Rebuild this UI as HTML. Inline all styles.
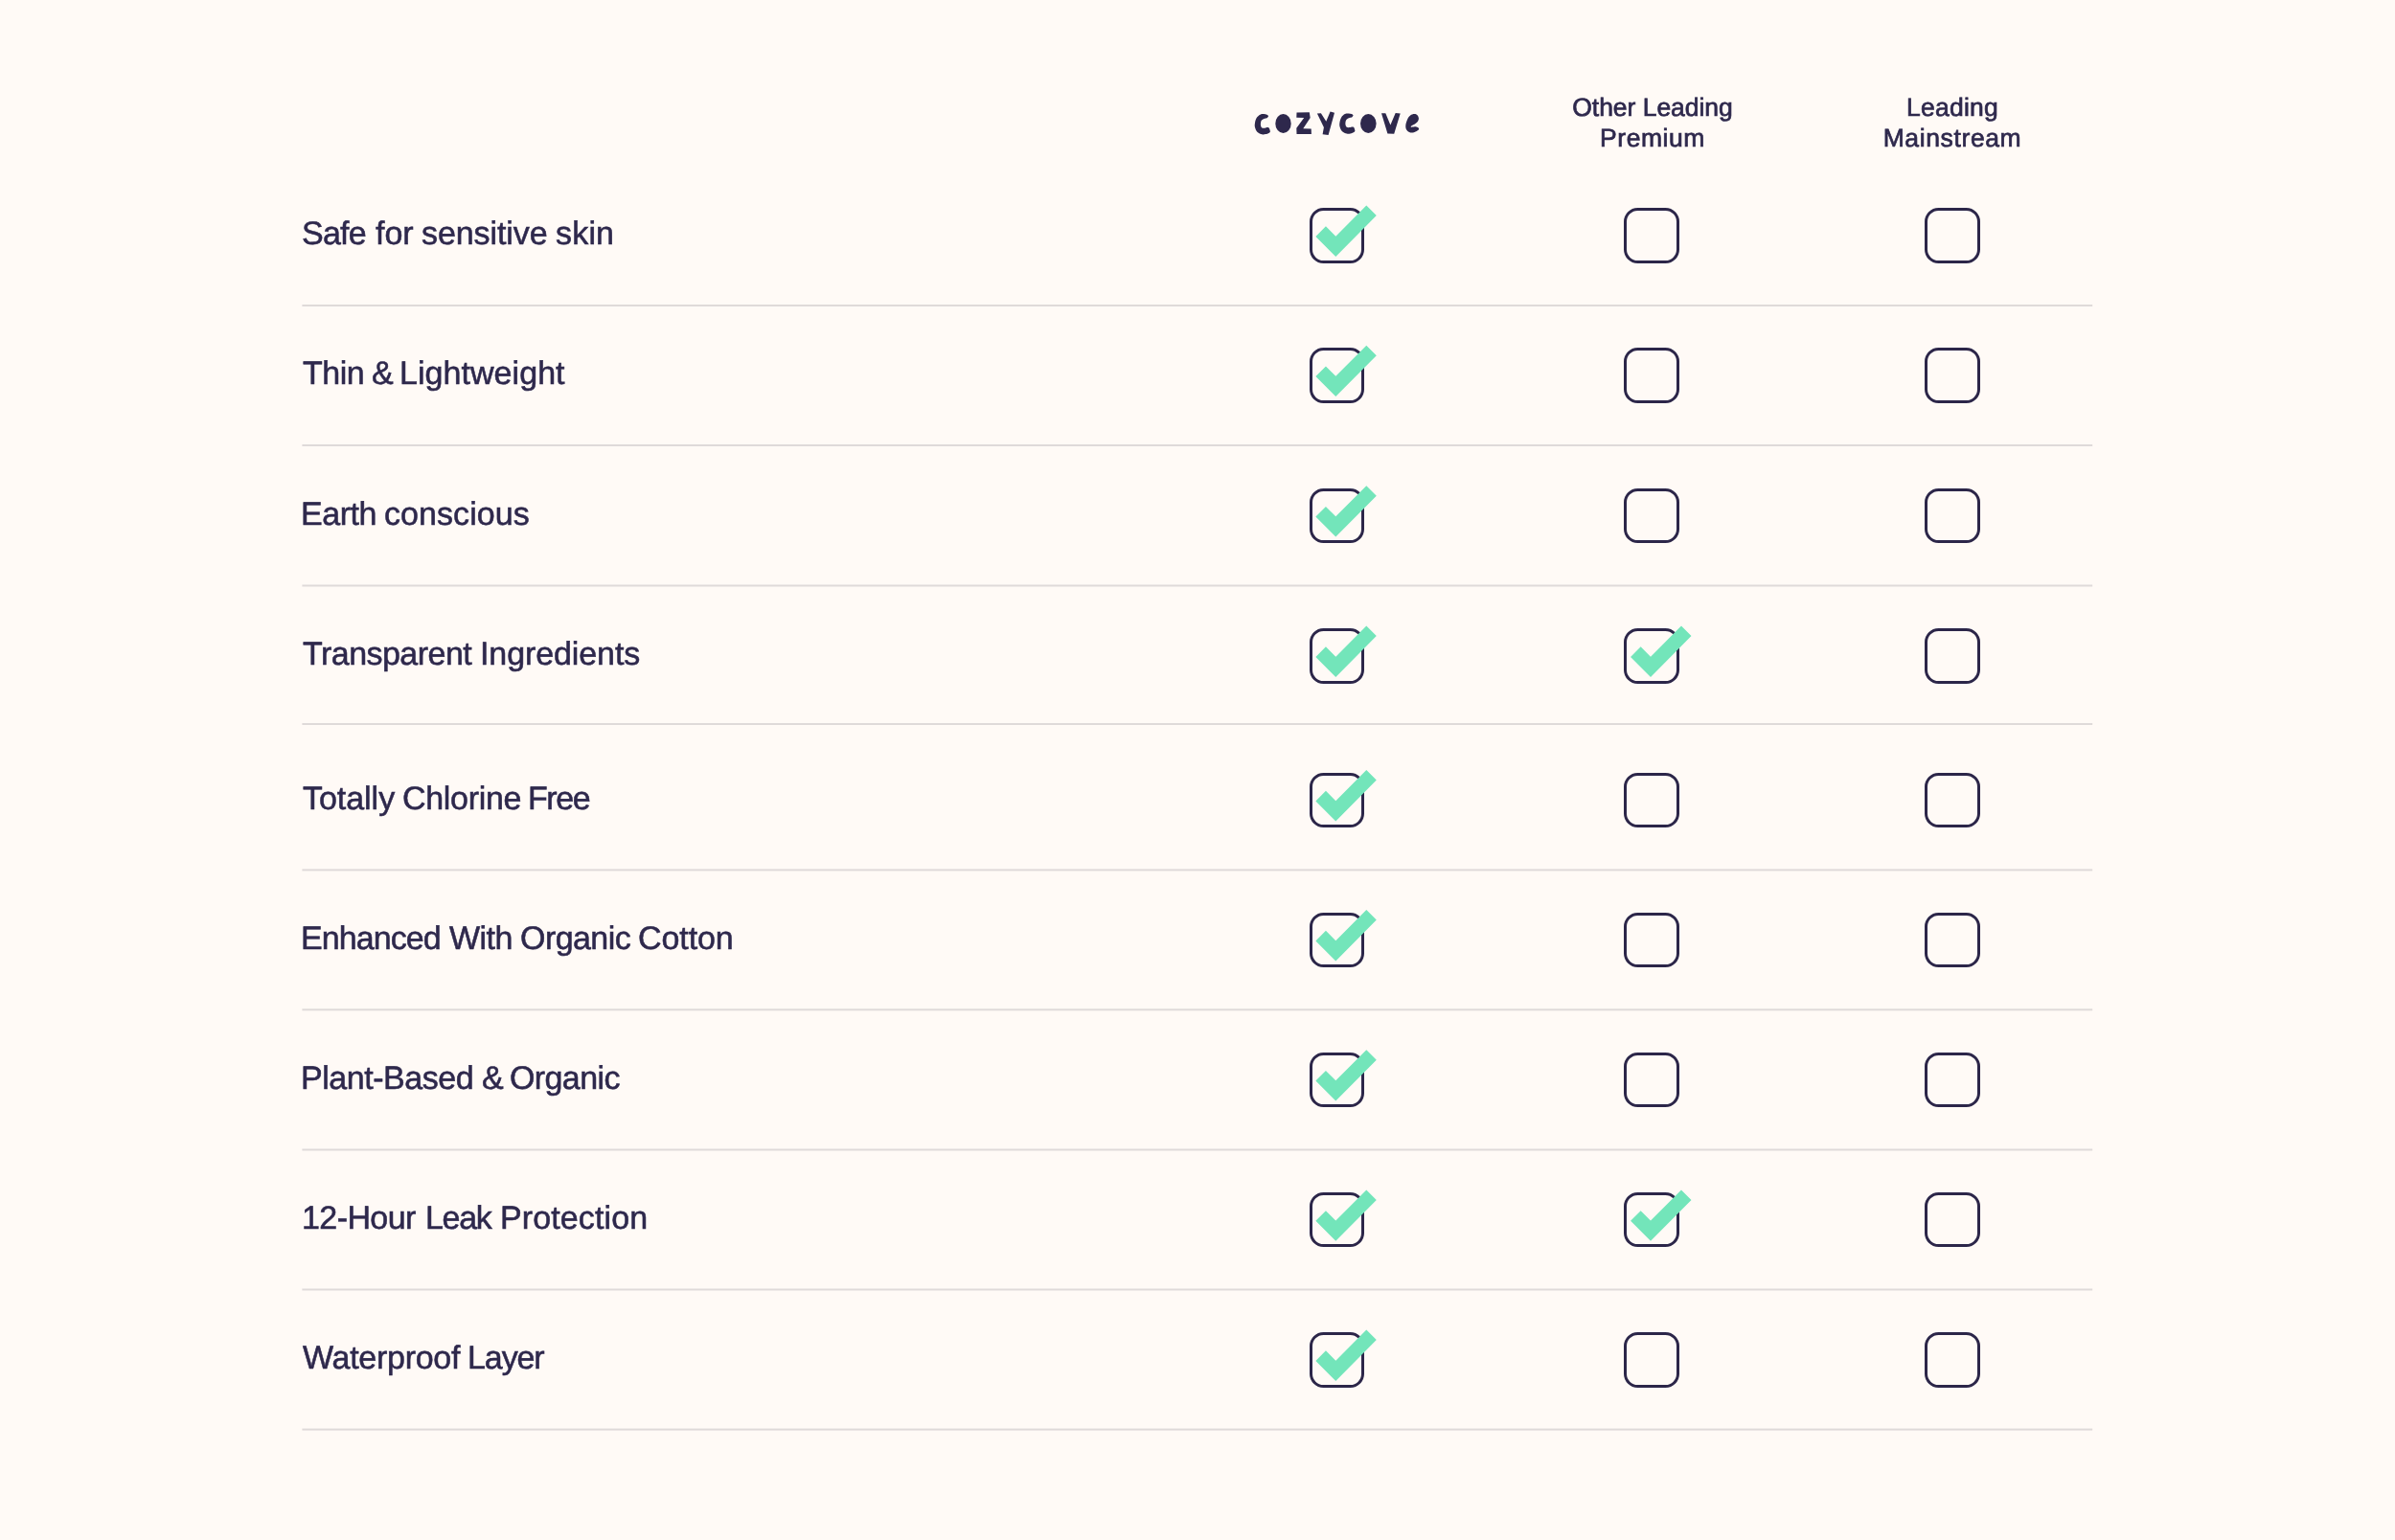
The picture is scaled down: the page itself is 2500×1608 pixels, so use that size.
<!DOCTYPE html>
<html><head><meta charset="utf-8"><title>Comparison</title>
<style>
html,body{margin:0;padding:0;}
body{width:2500px;height:1608px;overflow:hidden;background:#FFFAF6;position:relative;font-family:"Liberation Sans",sans-serif;color:#2E284C;text-rendering:geometricPrecision;}
.lbl{position:absolute;white-space:nowrap;will-change:transform;font-size:34.00px;line-height:34.00px;height:34.00px;-webkit-text-stroke:0.55px #2E284C;}
.hd{position:absolute;white-space:nowrap;will-change:transform;font-size:26.50px;line-height:32px;text-align:center;width:300px;-webkit-text-stroke:0.70px #2E284C;}
.bx{position:absolute;width:57.50px;height:57.50px;box-sizing:border-box;border:3px solid #2C2649;border-radius:14.5px;}
svg{position:absolute;overflow:visible;}
</style></head><body>

<svg style="left:0;top:0" width="2500" height="200" viewBox="0 0 2500 200"><g fill="#2E284C"><path d="M1319.20,119.10 C1320.37,119.10 1321.60,119.35 1322.40,119.70 C1323.20,120.05 1324.00,120.60 1324.00,121.20 C1324.00,121.80 1323.13,122.85 1322.40,123.30 C1321.67,123.75 1320.52,123.52 1319.60,123.90 C1318.68,124.28 1317.50,124.88 1316.90,125.60 C1316.30,126.32 1316.15,127.30 1316.00,128.20 C1315.85,129.10 1315.78,130.12 1316.00,131.00 C1316.22,131.88 1316.58,133.03 1317.30,133.50 C1318.02,133.97 1319.35,133.87 1320.30,133.80 C1321.25,133.73 1322.27,133.12 1323.00,133.10 C1323.73,133.08 1324.23,133.10 1324.70,133.70 C1325.17,134.30 1325.72,135.92 1325.80,136.70 C1325.88,137.48 1325.98,137.83 1325.20,138.40 C1324.42,138.97 1322.42,139.78 1321.10,140.10 C1319.78,140.42 1318.72,140.65 1317.30,140.30 C1315.88,139.95 1313.82,139.23 1312.60,138.00 C1311.38,136.77 1310.43,134.53 1310.00,132.90 C1309.57,131.27 1309.72,129.83 1310.00,128.20 C1310.28,126.57 1310.80,124.52 1311.70,123.10 C1312.60,121.68 1314.15,120.37 1315.40,119.70 C1316.65,119.03 1318.03,119.10 1319.20,119.10 Z"/><ellipse cx="1339.5" cy="129.0" rx="8.2" ry="9.95"/><path d="M1353.50,117.60 L1366.80,117.30 L1367.70,122.90 L1360.30,134.20 L1368.70,134.40 L1368.90,140.00 L1353.50,140.00 L1353.30,133.80 L1361.20,122.90 L1353.30,122.70 Z"/><path d="M1374.90,118.60 L1378.90,118.20 L1384.30,126.70 L1388.60,116.40 L1393.00,117.80 L1386.60,141.10 L1380.60,140.20 L1381.90,133.10 Z"/><path d="M1407.70,118.40 C1408.87,118.40 1410.10,118.65 1410.90,119.00 C1411.70,119.35 1412.50,119.90 1412.50,120.50 C1412.50,121.10 1411.63,122.15 1410.90,122.60 C1410.17,123.05 1409.02,122.82 1408.10,123.20 C1407.18,123.58 1406.00,124.18 1405.40,124.90 C1404.80,125.62 1404.65,126.60 1404.50,127.50 C1404.35,128.40 1404.28,129.42 1404.50,130.30 C1404.72,131.18 1405.08,132.33 1405.80,132.80 C1406.52,133.27 1407.85,133.17 1408.80,133.10 C1409.75,133.03 1410.77,132.42 1411.50,132.40 C1412.23,132.38 1412.73,132.40 1413.20,133.00 C1413.67,133.60 1414.22,135.22 1414.30,136.00 C1414.38,136.78 1414.48,137.13 1413.70,137.70 C1412.92,138.27 1410.92,139.08 1409.60,139.40 C1408.28,139.72 1407.22,139.95 1405.80,139.60 C1404.38,139.25 1402.32,138.53 1401.10,137.30 C1399.88,136.07 1398.93,133.83 1398.50,132.20 C1398.07,130.57 1398.22,129.13 1398.50,127.50 C1398.78,125.87 1399.30,123.82 1400.20,122.40 C1401.10,120.98 1402.65,119.67 1403.90,119.00 C1405.15,118.33 1406.53,118.40 1407.70,118.40 Z"/><ellipse cx="1428.3" cy="129.0" rx="8.3" ry="9.9"/><path d="M1442.00,118.20 L1446.30,118.20 L1451.40,130.40 L1456.70,118.00 L1461.70,118.60 L1455.20,139.80 L1448.40,139.40 Z"/><path d="M1476.20,119.10 C1477.42,119.05 1478.72,119.47 1479.50,120.20 C1480.28,120.93 1480.85,122.35 1480.90,123.50 C1480.95,124.65 1480.47,126.08 1479.80,127.10 C1479.13,128.12 1477.98,128.87 1476.90,129.60 C1475.82,130.33 1474.00,131.07 1473.30,131.50 C1472.60,131.93 1472.65,132.00 1472.70,132.20 C1472.75,132.40 1472.65,132.67 1473.60,132.70 C1474.55,132.73 1477.18,132.22 1478.40,132.40 C1479.62,132.58 1480.55,133.23 1480.90,133.80 C1481.25,134.37 1481.23,135.10 1480.50,135.80 C1479.77,136.50 1477.88,137.57 1476.50,138.00 C1475.12,138.43 1473.55,138.77 1472.20,138.40 C1470.85,138.03 1469.22,137.05 1468.40,135.80 C1467.58,134.55 1467.15,132.83 1467.30,130.90 C1467.45,128.97 1468.48,125.93 1469.30,124.20 C1470.12,122.47 1471.05,121.35 1472.20,120.50 C1473.35,119.65 1474.98,119.15 1476.20,119.10 Z"/></g></svg>
<div class="hd" style="left:1574.88px;top:96.42px;letter-spacing:-0.033px">Other Leading</div>
<div class="hd" style="left:1574.68px;top:128.42px;letter-spacing:0.567px">Premium</div>
<div class="hd" style="left:1888.13px;top:96.42px;letter-spacing:0.267px">Leading</div>
<div class="hd" style="left:1888.11px;top:128.42px;letter-spacing:0.622px">Mainstream</div>
<div class="lbl" style="left:314.82px;top:227.22px;letter-spacing:-0.776px">Safe</div>
<div class="lbl" style="left:391.50px;top:227.22px;letter-spacing:0.005px">for</div>
<div class="lbl" style="left:440.46px;top:227.22px;letter-spacing:-0.088px">sensitive</div>
<div class="lbl" style="left:580.26px;top:227.22px;letter-spacing:0.189px">skin</div>
<div class="bx" style="left:1366.80px;top:217.00px;width:57.20px"></div>
<svg style="left:0;top:0" width="1" height="1"><path fill="#73E5BA" d="M1373.35,246.90 L1383.95,236.30 L1394.30,246.65 L1426.30,214.60 L1436.80,225.10 L1394.30,267.90 Z"/></svg>
<div class="bx" style="left:1695.10px;top:217.00px;width:57.90px"></div>
<div class="bx" style="left:2008.90px;top:217.00px;width:57.70px"></div>
<div class="lbl" style="left:315.82px;top:373.42px;letter-spacing:-0.516px">Thin</div>
<div class="lbl" style="left:388.03px;top:373.42px;letter-spacing:0.000px">&amp;</div>
<div class="lbl" style="left:417.48px;top:373.42px;letter-spacing:0.053px">Lightweight</div>
<div class="bx" style="left:1366.80px;top:363.20px;width:57.20px"></div>
<svg style="left:0;top:0" width="1" height="1"><path fill="#73E5BA" d="M1373.35,393.10 L1383.95,382.50 L1394.30,392.85 L1426.30,360.80 L1436.80,371.30 L1394.30,414.10 Z"/></svg>
<div class="bx" style="left:1695.10px;top:363.20px;width:57.90px"></div>
<div class="bx" style="left:2008.90px;top:363.20px;width:57.70px"></div>
<div class="lbl" style="left:314.38px;top:519.82px;letter-spacing:-0.477px">Earth</div>
<div class="lbl" style="left:400.97px;top:519.82px;letter-spacing:0.075px">conscious</div>
<div class="bx" style="left:1366.80px;top:509.60px;width:57.20px"></div>
<svg style="left:0;top:0" width="1" height="1"><path fill="#73E5BA" d="M1373.35,539.50 L1383.95,528.90 L1394.30,539.25 L1426.30,507.20 L1436.80,517.70 L1394.30,560.50 Z"/></svg>
<div class="bx" style="left:1695.10px;top:509.60px;width:57.90px"></div>
<div class="bx" style="left:2008.90px;top:509.60px;width:57.70px"></div>
<div class="lbl" style="left:315.52px;top:666.22px;letter-spacing:-0.531px">Transparent</div>
<div class="lbl" style="left:500.54px;top:666.22px;letter-spacing:-0.097px">Ingredients</div>
<div class="bx" style="left:1366.80px;top:656.00px;width:57.20px"></div>
<svg style="left:0;top:0" width="1" height="1"><path fill="#73E5BA" d="M1373.35,685.90 L1383.95,675.30 L1394.30,685.65 L1426.30,653.60 L1436.80,664.10 L1394.30,706.90 Z"/></svg>
<div class="bx" style="left:1695.10px;top:656.00px;width:57.90px"></div>
<svg style="left:0;top:0" width="1" height="1"><path fill="#73E5BA" d="M1702.05,685.90 L1712.65,675.30 L1723.00,685.65 L1755.00,653.60 L1765.50,664.10 L1723.00,706.90 Z"/></svg>
<div class="bx" style="left:2008.90px;top:656.00px;width:57.70px"></div>
<div class="lbl" style="left:315.52px;top:816.72px;letter-spacing:-0.040px">Totally</div>
<div class="lbl" style="left:419.73px;top:816.72px;letter-spacing:-0.315px">Chlorine</div>
<div class="lbl" style="left:551.48px;top:816.72px;letter-spacing:-1.431px">Free</div>
<div class="bx" style="left:1366.80px;top:806.50px;width:57.20px"></div>
<svg style="left:0;top:0" width="1" height="1"><path fill="#73E5BA" d="M1373.35,836.40 L1383.95,825.80 L1394.30,836.15 L1426.30,804.10 L1436.80,814.60 L1394.30,857.40 Z"/></svg>
<div class="bx" style="left:1695.10px;top:806.50px;width:57.90px"></div>
<div class="bx" style="left:2008.90px;top:806.50px;width:57.70px"></div>
<div class="lbl" style="left:314.28px;top:962.72px;letter-spacing:-0.911px">Enhanced</div>
<div class="lbl" style="left:469.17px;top:962.72px;letter-spacing:-0.552px">With</div>
<div class="lbl" style="left:542.54px;top:962.72px;letter-spacing:-0.556px">Organic</div>
<div class="lbl" style="left:665.63px;top:962.72px;letter-spacing:-0.092px">Cotton</div>
<div class="bx" style="left:1366.80px;top:952.50px;width:57.20px"></div>
<svg style="left:0;top:0" width="1" height="1"><path fill="#73E5BA" d="M1373.35,982.40 L1383.95,971.80 L1394.30,982.15 L1426.30,950.10 L1436.80,960.60 L1394.30,1003.40 Z"/></svg>
<div class="bx" style="left:1695.10px;top:952.50px;width:57.90px"></div>
<div class="bx" style="left:2008.90px;top:952.50px;width:57.70px"></div>
<div class="lbl" style="left:314.28px;top:1108.92px;letter-spacing:-0.458px">Plant-Based</div>
<div class="lbl" style="left:502.83px;top:1108.92px;letter-spacing:0.000px">&amp;</div>
<div class="lbl" style="left:531.74px;top:1108.92px;letter-spacing:-0.606px">Organic</div>
<div class="bx" style="left:1366.80px;top:1098.70px;width:57.20px"></div>
<svg style="left:0;top:0" width="1" height="1"><path fill="#73E5BA" d="M1373.35,1128.60 L1383.95,1118.00 L1394.30,1128.35 L1426.30,1096.30 L1436.80,1106.80 L1394.30,1149.60 Z"/></svg>
<div class="bx" style="left:1695.10px;top:1098.70px;width:57.90px"></div>
<div class="bx" style="left:2008.90px;top:1098.70px;width:57.70px"></div>
<div class="lbl" style="left:315.24px;top:1255.12px;letter-spacing:-0.581px">12-Hour</div>
<div class="lbl" style="left:443.68px;top:1255.12px;letter-spacing:-1.314px">Leak</div>
<div class="lbl" style="left:522.18px;top:1255.12px;letter-spacing:0.110px">Protection</div>
<div class="bx" style="left:1366.80px;top:1244.90px;width:57.20px"></div>
<svg style="left:0;top:0" width="1" height="1"><path fill="#73E5BA" d="M1373.35,1274.80 L1383.95,1264.20 L1394.30,1274.55 L1426.30,1242.50 L1436.80,1253.00 L1394.30,1295.80 Z"/></svg>
<div class="bx" style="left:1695.10px;top:1244.90px;width:57.90px"></div>
<svg style="left:0;top:0" width="1" height="1"><path fill="#73E5BA" d="M1702.05,1274.80 L1712.65,1264.20 L1723.00,1274.55 L1755.00,1242.50 L1765.50,1253.00 L1723.00,1295.80 Z"/></svg>
<div class="bx" style="left:2008.90px;top:1244.90px;width:57.70px"></div>
<div class="lbl" style="left:315.97px;top:1401.22px;letter-spacing:-0.282px">Waterproof</div>
<div class="lbl" style="left:488.48px;top:1401.22px;letter-spacing:-1.092px">Layer</div>
<div class="bx" style="left:1366.80px;top:1391.00px;width:57.20px"></div>
<svg style="left:0;top:0" width="1" height="1"><path fill="#73E5BA" d="M1373.35,1420.90 L1383.95,1410.30 L1394.30,1420.65 L1426.30,1388.60 L1436.80,1399.10 L1394.30,1441.90 Z"/></svg>
<div class="bx" style="left:1695.10px;top:1391.00px;width:57.90px"></div>
<div class="bx" style="left:2008.90px;top:1391.00px;width:57.70px"></div>
<svg style="left:0;top:0" width="2500" height="1608" viewBox="0 0 2500 1608"><g fill="#DFDAD9"><rect x="315.4" y="318.00" width="1868.8" height="2"/><rect x="315.4" y="464.00" width="1868.8" height="2"/><rect x="315.4" y="610.50" width="1868.8" height="2"/><rect x="315.4" y="755.00" width="1868.8" height="2"/><rect x="315.4" y="907.40" width="1868.8" height="2"/><rect x="315.4" y="1053.30" width="1868.8" height="2"/><rect x="315.4" y="1199.50" width="1868.8" height="2"/><rect x="315.4" y="1345.50" width="1868.8" height="2"/><rect x="315.4" y="1491.60" width="1868.8" height="2"/></g></svg>
</body></html>
